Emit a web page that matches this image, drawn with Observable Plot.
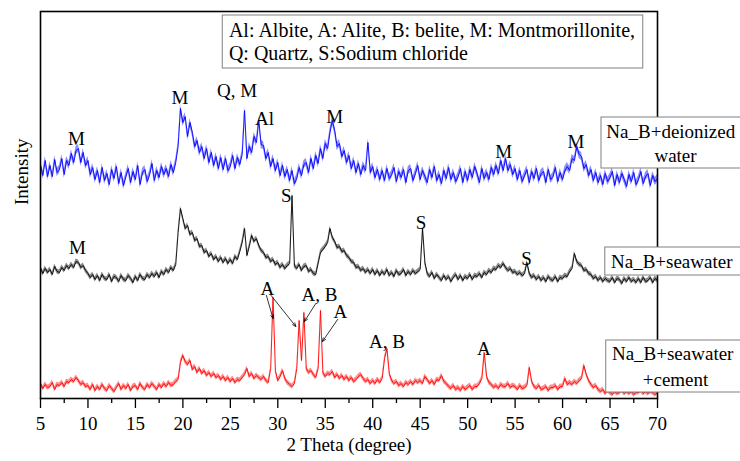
<!DOCTYPE html>
<html><head><meta charset="utf-8">
<script src="https://cdn.jsdelivr.net/npm/d3@7"></script>
<script src="https://cdn.jsdelivr.net/npm/@observablehq/plot@0.6"></script>
<style>
body{margin:0;background:#fff}
svg, svg text { font-family: "Liberation Serif", "Times New Roman", serif !important; }
</style>
</head><body><div id="chart"></div>
<script>
// 2-theta grid: start 5°, step 0.25° (intensity values in arbitrary units, stacked)
const thetaStart = 5, thetaStep = 0.25;

const deionized = [
234,223,238,222, 233,222,239,226, 229,240,224,238, 233,245,236,248, 250,236,246,233,
238,224,231,219, 228,216,231,218, 225,214,229,220, 232,215,226,213, 222,230,216,227,
219,233,214,226, 229,217,224,235, 218,228,221,232, 224,230,222,234, 226,236,252,290,
276,282,262,276, 266,252,258,246, 252,240,250,236, 246,233,242,230, 241,229,240,228,
232,243,230,241, 234,244,288,240, 252,246,262,256, 278,254,253,240, 246,232,240,228,
236,223,233,222, 229,218,228,215, 220,231,223,234, 236,226,240,230, 243,235,250,240,
255,250,266,278, 268,252,255,242, 248,236,243,230, 238,226,235,224, 233,228,256,226,
232,221,229,219, 228,218,230,220, 224,231,217,227, 221,229,216,228, 230,218,225,233,
219,228,222,216, 229,221,232,218, 224,215,228,220, 231,219,226,217, 222,230,216,227,
218,229,221,232, 225,216,230,220, 226,219,231,224, 233,225,238,228, 240,228,234,224,
230,219,228,217, 223,229,216,227, 220,230,218,225, 227,216,229,219, 222,231,217,226,
219,228,232,228, 240,238,252,244, 242,230,234,223, 229,218,226,216, 223,214,225,217,
221,227,213,224, 216,225,219,212, 224,217,226,214, 219,227,215,222, 225,213,223,217,
220];

const seawater = [
131,125,130,126, 129,124,132,127, 126,131,128,133, 130,134,131,137, 136,131,133,128,
125,121,124,119, 123,118,124,120, 119,124,117,122, 121,117,123,119, 118,123,120,116,
122,118,124,120, 119,124,121,125, 122,126,121,127, 124,129,126,131, 128,134,166,190,
180,170,173,164, 166,158,160,152, 153,146,148,142, 145,139,142,137, 141,136,140,135,
139,135,142,139, 147,156,170,143, 152,163,157,160, 153,148,146,141, 142,137,139,134,
136,131,134,130, 133,135,203,133, 130,134,128,132, 133,127,129,125, 124,135,146,149,
152,156,170,161, 157,151,152,147, 148,143,141,137, 136,131,132,128, 130,126,129,125,
129,124,128,123, 127,124,129,123, 126,122,128,124, 125,129,123,127, 124,128,125,127,
129,170,136,125, 122,126,120,124, 121,118,123,119, 122,117,121,124, 119,123,118,122,
120,124,119,123, 122,125,121,126, 124,128,126,130, 129,133,131,135, 131,128,130,126,
127,124,126,123, 125,136,125,121, 123,119,122,118, 121,117,122,119, 118,122,117,121,
120,123,122,127, 130,145,137,134, 133,128,129,125, 124,120,122,118, 121,117,120,118,
117,121,116,120, 119,115,120,117, 121,117,119,116, 120,116,121,117, 118,121,116,120,
118];

const seawaterCement = [
15,10,14,11, 12,16,9,14, 13,16,12,17, 16,19,17,21, 18,14,16,12,
13,9,14,8, 12,9,14,10, 8,13,10,7, 11,15,9,13, 10,14,8,12,
13,9,15,11, 9,14,11,15, 12,9,14,11, 15,12,16,13, 14,17,19,36,
43,37,34,38, 29,32,26,30, 25,28,23,26, 22,25,21,23, 19,22,18,21,
17,20,16,19, 18,21,24,30, 22,25,20,23, 21,19,22,18, 16,30,101,28,
18,22,28,20, 16,14,12,15, 30,78,38,86, 30,26,28,24, 21,30,88,26,
22,25,24,27, 21,24,20,23, 19,22,18,21, 17,19,22,24, 20,17,19,15,
18,15,19,16, 20,40,50,25, 18,15,17,13, 15,12,16,14, 17,14,18,16,
18,15,22,19, 15,18,14,19, 18,23,17,15, 12,10,13,9, 11,8,12,9,
11,13,9,12, 12,15,20,46, 22,16,14,11, 13,10,14,12, 12,15,11,13,
12,9,13,10, 11,13,31,17, 12,10,13,9, 10,12,8,11, 11,13,9,12,
12,20,14,16, 14,17,15,18, 20,33,24,18, 14,11,13,9, 7,9,5,8,
6,4,7,5, 6,8,5,7, 5,7,4,6, 6,8,5,7, 5,7,6,4,
6];

const seriesNames = ["Na_B+deionized water", "Na_B+seawater", "Na_B+seawater +cement"];
const seriesColors = ["#0000ff", "#000000", "#ff0000"];
// half-width of the fuzzy noise band seen around each trace
const noiseHalfWidth = [4, 2.5, 2.5];

const xTicks = [5,10,15,20,25,30,35,40,45,50,55,60,65,70];
const xMinorTicks = [7.5,12.5,17.5,22.5,27.5,32.5,37.5,42.5,47.5,52.5,57.5,62.5,67.5];

// phase labels: text, 2θ position, height
const peakText  = ["M","M","Q, M","Al","M","M","M",  "M","S","S","S",  "A","A, B","A","A, B","A"];
const peakTheta = [8.8,19.7,25.7,28.6,36.0,53.8,61.4, 8.9,30.9,45.1,56.2, 28.9,34.4,36.6,41.5,51.7];
const peakY     = [260,301,308,280,282,247,257, 151,203,176,140, 110,104,87,57,50];

// arrows from labels to alite/belite peaks
const arrowFromTheta = [28.8,29.3,34.0,36.3];
const arrowFromY     = [103,103,95,79];
const arrowToTheta   = [29.5,31.9,32.8,34.7];
const arrowToY       = [80,72,77,57];

const legendLines = ["Al: Albite, A: Alite, B: belite, M: Montmorillonite,", "Q: Quartz, S:Sodium chloride"];

// ---- build tables
const rows = [];
[deionized, seawater, seawaterCement].forEach((arr, s) => {
  arr.forEach((v, i) => rows.push({series: seriesNames[s], theta: thetaStart + i * thetaStep, intensity: v, w: noiseHalfWidth[s]}));
});
const peaks = peakText.map((t, i) => ({text: t, theta: peakTheta[i], y: peakY[i]}));
const arrows = arrowFromTheta.map((x, i) => ({x1: x, y1: arrowFromY[i], x2: arrowToTheta[i], y2: arrowToY[i]}));

const legendBox = [{x1: 24.2, x2: 68.5, y1: 330, y2: 383}];
const legendText = legendLines.map((t, i) => ({text: t, x: 24.85, y: [368, 345][i]}));

const seriesBoxes = [
  {x1: 64.1, x2: 79, y1: 230, y2: 281},
  {x1: 64.5, x2: 79, y1: 123, y2: 151},
  {x1: 64.6, x2: 79, y1: 6, y2: 58}
];
const seriesBoxText = [
  {text: "Na_B+deionized", x: 71.4, y: 267},
  {text: "water", x: 71.9, y: 243},
  {text: "Na_B+seawater", x: 71.5, y: 137},
  {text: "Na_B+seawater", x: 71.6, y: 45},
  {text: "+cement", x: 71.9, y: 19}
];

const font = "Liberation Serif";

const chart = Plot.plot({
  width: 740,
  height: 461,
  marginLeft: 40,
  marginRight: 83,
  marginTop: 11,
  marginBottom: 63,
  style: {fontFamily: font, fontSize: "19px", color: "black", background: "white"},
  x: {domain: [5, 70]},
  y: {domain: [0, 387], axis: null},
  color: {domain: seriesNames, range: seriesColors},
  marks: [
    Plot.axisX({ticks: xTicks, tickSize: 10, tickPadding: 8, tickFormat: d => String(d), label: null, fontSize: 19, fontFamily: font, strokeWidth: 1.3}),
    Plot.axisX({ticks: xMinorTicks, tickSize: 5, tickFormat: () => "", label: null, strokeWidth: 1.3}),
    Plot.areaY(rows, {x: "theta", y1: d => d.intensity - d.w, y2: d => d.intensity + d.w, z: "series", fill: "series", fillOpacity: 0.45}),
    Plot.lineY(rows, {x: "theta", y: "intensity", z: "series", stroke: "series", strokeWidth: 0.9}),
    Plot.frame({stroke: "black", strokeWidth: 1.6}),
    Plot.text(peaks, {x: "theta", y: "y", text: "text", fontSize: 19, fontFamily: font, fill: "black"}),
    Plot.arrow(arrows, {x1: "x1", y1: "y1", x2: "x2", y2: "y2", stroke: "black", strokeWidth: 0.8, headLength: 7, headAngle: 45}),
    Plot.rect(legendBox, {x1: "x1", x2: "x2", y1: "y1", y2: "y2", fill: "white", stroke: "#808080", strokeWidth: 1}),
    Plot.text(legendText, {x: "x", y: "y", text: "text", textAnchor: "start", fontSize: 20, fontFamily: font, fill: "black"}),
    Plot.rect(seriesBoxes, {x1: "x1", x2: "x2", y1: "y1", y2: "y2", fill: "white", stroke: "#808080", strokeWidth: 1}),
    Plot.text(seriesBoxText, {x: "x", y: "y", text: "text", fontSize: 19, fontFamily: font, fill: "black"}),
    Plot.text(["Intensity"], {frameAnchor: "left", rotate: -90, dx: -19, fontSize: 19, fontFamily: font, fill: "black"}),
    Plot.text(["2 Theta (degree)"], {frameAnchor: "bottom", dy: 52, fontSize: 19, fontFamily: font, fill: "black"})
  ]
});
document.getElementById("chart").append(chart);
</script>
</body></html>
